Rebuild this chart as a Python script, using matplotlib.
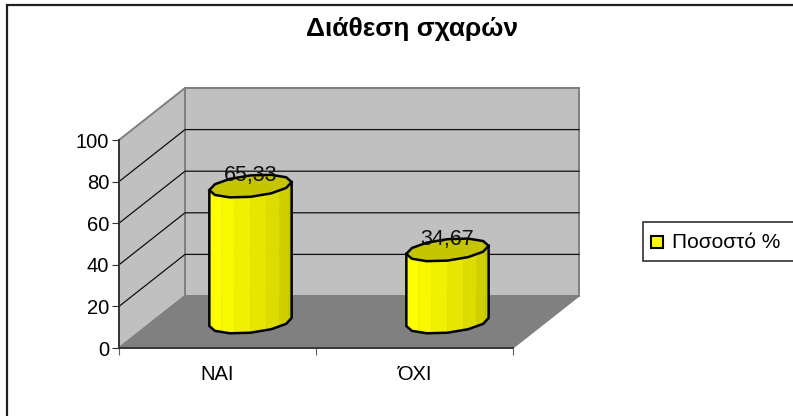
# 3D looking cylinder chart, drawn by hand on a plain axes
from matplotlib import pyplot as plt
from matplotlib.patches import Polygon, Rectangle
import numpy as np

plt.rcParams['font.family'] = ['Liberation Sans', 'DejaVu Sans']

# data
categories = ['ΝΑΙ', 'ΌΧΙ']
values = [65.33, 34.67]
value_labels = ['65,33', '34,67']
yticks = [0, 20, 40, 60, 80, 100]
series_name = 'Ποσοστό %'
chart_title = 'Διάθεση σχαρών'

W, H = 793, 416
# depth of the box in axis units (1 category wide, 100 high)
DX = 66 / 197.0
DY = 52 / 2.08
BAR_HALF = 38.5 / 197.0
DEPTH_R = 0.22

fig = plt.figure(figsize=(W / 100, H / 100), dpi=100)
ax = fig.add_axes([119 / W, 1 - 348 / H, 394 / W, 208 / H])
ax.set_xlim(0, 2)
ax.set_ylim(0, 100)
ax.patch.set_visible(False)

# outer frame, only left and top show, the rest is cut off
fig.add_artist(Rectangle((6.5 / W, 1 - 430 / H), 800 / W, 425.5 / H, transform=fig.transFigure,
                         fill=False, ec='#202020', lw=1.6))

# walls and floor
n = len(categories)
top = yticks[-1]
ax.add_patch(Polygon([(DX, DY), (n + DX, DY), (n + DX, top + DY), (DX, top + DY)],
                     fc='#C0C0C0', ec='#808080', lw=1.4, clip_on=False))
ax.add_patch(Polygon([(0, 0), (DX, DY), (DX, top + DY), (0, top)],
                     fc='#C0C0C0', ec='#808080', lw=1.4, clip_on=False))
ax.add_patch(Polygon([(0, 0), (n, 0), (n + DX, DY), (DX, DY)],
                     fc='#808080', ec='#808080', lw=1, clip_on=False))

# gridlines
for t in yticks[1:-1]:
    ax.plot([0, DX, n + DX], [t, t + DY, t + DY], color='#101010', lw=0.9, clip_on=False)
ax.plot([DX, n + DX], [top + DY, top + DY], color='#808080', lw=1.4, clip_on=False)


def ring(cx, cy, angles):
    # points round the cylinder section, in axis units
    xs = cx + BAR_HALF * np.cos(angles) + DX * DEPTH_R * np.sin(angles)
    ys = cy + DY * DEPTH_R * np.sin(angles)
    return xs, ys


facets = np.linspace(0, 2 * np.pi, 13)
start = np.arctan2(DX * DEPTH_R, BAR_HALF)
band_colors = ['#FFFF00', '#FFFF00', '#F8F800', '#F0F000', '#E6E600', '#DCDC00', '#D0D000', '#C8C800']

for i, v in enumerate(values):
    cx = i + 0.5 + DX / 2
    cy = DY / 2
    # front half of the cylinder split in shaded strips
    a = np.linspace(np.pi + start, 2 * np.pi + start, len(band_colors) + 1)
    for j, col in enumerate(band_colors):
        xs, ys = ring(cx, cy, a[j:j + 2])
        ax.add_patch(Polygon([(xs[0], ys[0]), (xs[1], ys[1]), (xs[1], ys[1] + v), (xs[0], ys[0] + v)],
                             fc=col, ec=col, lw=0.3, clip_on=False, zorder=3))
    # outline
    front = np.linspace(np.pi + start, 2 * np.pi + start, 7)
    xs, ys = ring(cx, cy, front)
    ax.plot(np.r_[xs[0], xs, xs[-1]], np.r_[ys[0] + v, ys, ys[-1] + v], color='black', lw=1.8,
            clip_on=False, zorder=4)
    # top
    xs, ys = ring(cx, cy + v, facets + start)
    ax.add_patch(Polygon(np.c_[xs, ys], fc='#C4C400', ec='black', lw=1.8, clip_on=False, zorder=4))
    ax.text(cx, cy + v + 5, value_labels[i], ha='center', va='center', fontsize=15.5,
            color='#101010', zorder=5)

# axes
for side in ['top', 'right']:
    ax.spines[side].set_visible(False)
for side in ['left', 'bottom']:
    ax.spines[side].set_color('#303030')
    ax.spines[side].set_linewidth(1.3)
    ax.spines[side].set_zorder(2)
ax.set_yticks(yticks)
ax.set_xticks(range(n + 1))
ax.set_xticklabels([])
ax.set_xticks(np.arange(n) + 0.5, minor=True)
ax.set_xticklabels(categories, minor=True)
ax.tick_params(axis='x', which='minor', length=0, pad=12, labelsize=14.5)
ax.tick_params(axis='x', which='major', length=5, color='#606060')
ax.tick_params(axis='y', length=5, color='#303030', pad=2, labelsize=14.5)

# title
fig.text(411.5 / W, 1 - 29 / H, chart_title, ha='center', va='center', fontsize=19, fontweight='bold')

# legend, runs off the right side
fig.add_artist(Rectangle((643 / W, 1 - 261 / H), 170 / W, 39 / H, transform=fig.transFigure,
                         fc='white', ec='#303030', lw=1.2))
fig.add_artist(Rectangle((651 / W, 1 - 248 / H), 12 / W, 12 / H, transform=fig.transFigure,
                         fc='#FFFF00', ec='black', lw=1.5))
fig.text(672 / W, 1 - 242 / H, series_name, ha='left', va='center', fontsize=15)

fig.savefig('out.png', dpi=100)
